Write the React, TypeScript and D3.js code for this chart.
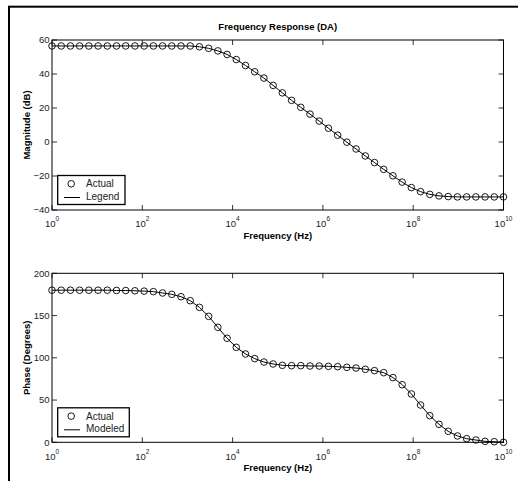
import React, { useEffect, useRef } from 'react';
import * as d3 from 'd3';

// sample grid: 50 points, log-spaced from 1 Hz to 10 GHz
const nPoints = 50;
const freqs = d3.range(nPoints).map(i => Math.pow(10, (i * 10) / (nPoints - 1)));

const magnitude = [
  56.5, 56.5, 56.5, 56.5, 56.5, 56.5, 56.5, 56.5, 56.5, 56.5,
  56.5, 56.5, 56.5, 56.5, 56.5, 56.5, 56.0, 55.1, 53.6, 51.5,
  48.5, 45.0, 41.3, 37.6, 33.3, 28.9, 24.5, 20.4, 16.4, 12.3,
  8.1, 4.0, -0.1, -4.1, -8.2, -12.1, -16.1, -19.9, -23.6, -26.8,
  -29.2, -30.8, -31.7, -32.1, -32.3, -32.3, -32.3, -32.3, -32.3, -32.3
];

const phase = [
  180, 180, 180, 180, 180, 180, 180, 179.7, 179.6, 179.3,
  178.9, 178.3, 176.7, 175.1, 172.3, 167.6, 159.7, 149.1, 136.1, 123.1,
  112.4, 104.5, 99.0, 95.0, 92.7, 91.1, 90.7, 90.7, 90.3, 90.3,
  89.9, 89.5, 88.7, 87.9, 86.4, 84.8, 82.4, 76.6, 68.2, 57.2,
  44.1, 31.5, 21.3, 13.0, 7.5, 4.3, 2.7, 1.1, 0.7, 0
];

const xTickExps = [0, 2, 4, 6, 8, 10];
const magTicks = [-40, -20, 0, 20, 40, 60];
const phaseTicks = [0, 50, 100, 150, 200];

const W = 518;
const H = 481;
const FONT = '"Liberation Sans", Arial, Helvetica, sans-serif';

type PanelCfg = {
  top: number;
  bottom: number;
  domain: [number, number];
  ticks: number[];
  values: number[];
  ylabel: string;
  legend: [string, string];
  legendW: number;
  title?: string;
};

const App: React.FC = () => {
  const svgRef = useRef<SVGSVGElement>(null);

  useEffect(() => {
    if (!svgRef.current) return;
    const svg = d3.select(svgRef.current);
    svg.selectAll('*').remove();

    const left = 52;
    const right = 503.5;
    const x = d3.scaleLog().domain([1, 1e10]).range([left, right]);

    // outer frame
    svg.append('rect')
      .attr('x', 9).attr('y', 6.7)
      .attr('width', 600).attr('height', 600)
      .attr('fill', '#fff')
      .attr('stroke', '#000')
      .attr('stroke-width', 2);

    const drawPanel = (cfg: PanelCfg) => {
      const y = d3.scaleLinear().domain(cfg.domain).range([cfg.bottom, cfg.top]);
      const g = svg.append('g').style('font-family', FONT);
      const tl = 5;

      // ticks
      xTickExps.forEach(e => {
        const xp = x(Math.pow(10, e));
        g.append('line').attr('x1', xp).attr('x2', xp).attr('y1', cfg.bottom).attr('y2', cfg.bottom - tl)
          .attr('stroke', '#000').attr('stroke-width', 0.8);
        g.append('line').attr('x1', xp).attr('x2', xp).attr('y1', cfg.top).attr('y2', cfg.top + tl)
          .attr('stroke', '#000').attr('stroke-width', 0.8);
        const t = g.append('text')
          .attr('x', xp)
          .attr('y', cfg.bottom + 17.3)
          .attr('text-anchor', 'middle')
          .style('font-size', '9.5px')
          .attr('fill', '#222');
        t.append('tspan').text('10');
        t.append('tspan').attr('dy', -6).style('font-size', '6.5px').text(String(e));
      });
      cfg.ticks.forEach(v => {
        const yp = y(v);
        g.append('line').attr('x1', left).attr('x2', left + tl).attr('y1', yp).attr('y2', yp)
          .attr('stroke', '#000').attr('stroke-width', 0.8);
        g.append('line').attr('x1', right).attr('x2', right - tl).attr('y1', yp).attr('y2', yp)
          .attr('stroke', '#000').attr('stroke-width', 0.8);
        g.append('text')
          .attr('x', left - 2.5)
          .attr('y', yp)
          .attr('dy', '0.35em')
          .attr('text-anchor', 'end')
          .style('font-size', '9.5px')
          .attr('fill', '#222')
          .text(v < 0 ? '\u2212' + Math.abs(v) : String(v));
      });

      // axes box
      g.append('rect')
        .attr('x', left).attr('y', cfg.top)
        .attr('width', right - left).attr('height', cfg.bottom - cfg.top)
        .attr('fill', 'none').attr('stroke', '#000').attr('stroke-width', 1);

      // modeled line
      const line = d3.line<number>()
        .x((_, i) => x(freqs[i]))
        .y(d => y(d));
      g.append('path')
        .datum(cfg.values)
        .attr('d', line)
        .attr('fill', 'none')
        .attr('stroke', '#000')
        .attr('stroke-width', 1);

      // actual markers
      g.selectAll('.pt')
        .data(cfg.values)
        .enter().append('circle')
        .attr('cx', (_, i) => x(freqs[i]))
        .attr('cy', d => y(d))
        .attr('r', 3.3)
        .attr('fill', 'none')
        .attr('stroke', '#000')
        .attr('stroke-width', 0.9);

      // labels
      g.append('text')
        .attr('x', (left + right) / 2)
        .attr('y', cfg.bottom + 28.5)
        .attr('text-anchor', 'middle')
        .style('font-size', '9.5px')
        .style('font-weight', 'bold')
        .text('Frequency (Hz)');
      g.append('text')
        .attr('transform', `translate(30,${(cfg.top + cfg.bottom) / 2}) rotate(-90)`)
        .attr('text-anchor', 'middle')
        .style('font-size', '9.5px')
        .style('font-weight', 'bold')
        .text(cfg.ylabel);
      if (cfg.title) {
        g.append('text')
          .attr('x', (left + right) / 2)
          .attr('y', cfg.top - 10)
          .attr('text-anchor', 'middle')
          .style('font-size', '9.5px')
          .style('font-weight', 'bold')
          .text(cfg.title);
      }

      // legend
      const lx = 57.7;
      const lh = 29;
      const ly = cfg.bottom - 5.5 - lh;
      const lg = g.append('g');
      lg.append('rect')
        .attr('x', lx).attr('y', ly)
        .attr('width', cfg.legendW).attr('height', lh)
        .attr('fill', '#fff').attr('stroke', '#000').attr('stroke-width', 1.3);
      lg.append('circle')
        .attr('cx', lx + 13.5).attr('cy', ly + 8.3)
        .attr('r', 3.3).attr('fill', 'none').attr('stroke', '#000').attr('stroke-width', 0.9);
      lg.append('line')
        .attr('x1', lx + 6.3).attr('x2', lx + 22.3)
        .attr('y1', ly + 22).attr('y2', ly + 22)
        .attr('stroke', '#000').attr('stroke-width', 1);
      cfg.legend.forEach((s, i) => {
        lg.append('text')
          .attr('x', lx + 28.3)
          .attr('y', ly + 8.3 + i * 12.8)
          .attr('dy', '0.35em')
          .style('font-size', '10px')
          .attr('fill', '#222')
          .text(s);
      });
    };

    drawPanel({
      top: 40, bottom: 210, domain: [-40, 60], ticks: magTicks, values: magnitude,
      ylabel: 'Magnitude (dB)', legend: ['Actual', 'Legend'], legendW: 67.3,
      title: 'Frequency Response (DA)'
    });
    drawPanel({
      top: 273.3, bottom: 442.3, domain: [0, 200], ticks: phaseTicks, values: phase,
      ylabel: 'Phase (Degrees)', legend: ['Actual', 'Modeled'], legendW: 71.6
    });
  }, []);

  return (
    <svg
      ref={svgRef}
      width={W}
      height={H}
      style={{ position: 'absolute', left: 0, top: 0, background: '#fff' }}
    />
  );
};

export default App;
